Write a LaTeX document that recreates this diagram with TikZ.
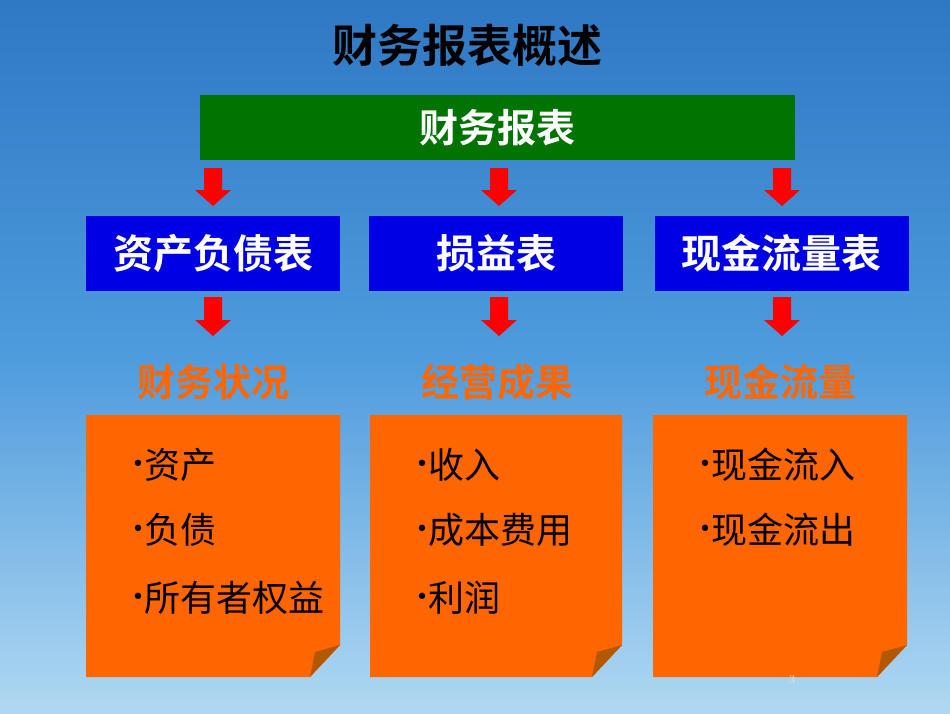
\documentclass[tikz,border=0pt]{standalone}
\usepackage{fontspec}
\newfontfamily\cjk{Noto Sans CJK SC}
\newfontfamily\cjkb{Noto Sans CJK SC Bold}
\newfontfamily\dvs{DejaVu Sans}
\definecolor{bgtop}{HTML}{2F78C4}
\definecolor{bgmid}{HTML}{4E9BDD}
\definecolor{bgbot}{HTML}{B0D8F2}
\definecolor{orng}{HTML}{FF6600}
\begin{document}
\begin{tikzpicture}[x=1pt,y=-1pt,
  darr/.style={fill=red,draw=none},
  bluebox/.style={fill=blue!90!black,draw=none,minimum width=254pt,minimum height=75pt,text=white,font=\cjkb\fontsize{40}{46}\selectfont},
  olab/.style={text=orng,font=\cjkb\fontsize{38}{44}\selectfont},
  item/.style={anchor=west,font=\cjk\fontsize{36}{42}\selectfont}]
\useasboundingbox (0,0) rectangle (950,713);
\shade[top color=bgtop,bottom color=bgbot,middle color=bgmid] (0,0) rectangle (950,713);
\node[font=\cjkb\fontsize{45}{50}\selectfont] (title) at (467,45) {财务报表概述};
\node[fill=green!45!black,minimum width=595pt,minimum height=65pt,text=white,font=\cjkb\fontsize{39}{44}\selectfont] (fs) at (497.5,127.5) {财务报表};
\foreach \x/\n/\t in {213/bs/资产负债表,496/is/损益表,781.5/cf/现金流量表}{
  \node[bluebox] (\n) at (\x,253.5) {\t};
}
\foreach \x in {213,499,782}{
  \fill[darr] (\x-9,168) -- (\x+9,168) -- (\x+9,190) -- (\x+18,190) -- (\x,206) -- (\x-18,190) -- (\x-9,190) -- cycle;
  \fill[darr] (\x-9,297) -- (\x+9,297) -- (\x+9,320) -- (\x+18,320) -- (\x,336) -- (\x-18,320) -- (\x-9,320) -- cycle;
}
\node[olab] (l1) at (213,382) {财务状况};
\node[olab] (l2) at (497,382) {经营成果};
\node[olab] (l3) at (780,382) {现金流量};
\foreach \a/\b in {86/340,370/622,653/907}{
  \fill[orng] (\a,415) -- (\b,415) -- (\b,645) -- (\b-30,677) -- (\a,677) -- cycle;
  \fill[orange!70!black] (\b,645) -- (\b-25,652) -- (\b-30,677) -- cycle;
}
\newcommand\bul{{\dvs\fontsize{22}{24}\selectfont\raisebox{7pt}{•}}}
\node[item] (a1) at (128,465) {\bul 资产};
\node[item] (a2) at (128,530) {\bul 负债};
\node[item] (a3) at (128,598) {\bul 所有者权益};
\node[item] (b1) at (412,465) {\bul 收入};
\node[item] (b2) at (412,530) {\bul 成本费用};
\node[item] (b3) at (412,598) {\bul 利润};
\node[item] (c1) at (695,465) {\bul 现金流入};
\node[item] (c2) at (695,530) {\bul 现金流出};
\node[text=white!80!gray,font=\fontsize{12}{14}\selectfont] (pg) at (792,680) {3};
\end{tikzpicture}
\end{document}
